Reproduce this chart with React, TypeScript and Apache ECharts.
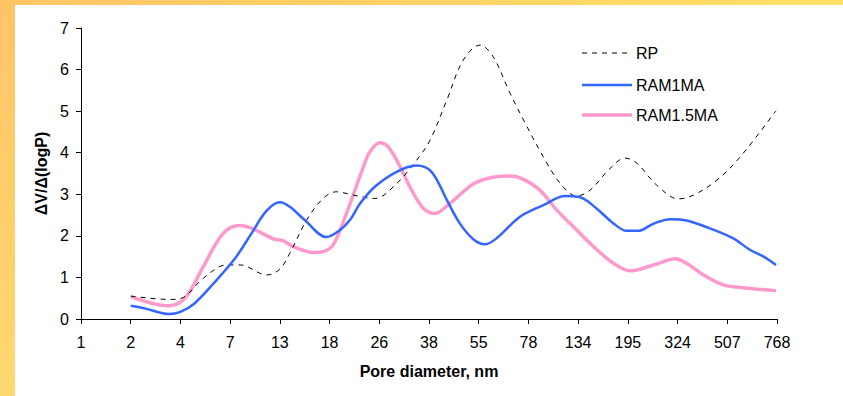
import React, { useEffect, useRef } from "react";
import * as echarts from "echarts";

const xTickLabels = ["1", "2", "4", "7", "13", "18", "26", "38", "55", "78", "134", "195", "324", "507", "768"];
const seriesNames = ["RP", "RAM1MA", "RAM1.5MA"];

// [position on category scale, ΔV/Δ(logP)]
const rpData: [number, number][] = [
  [1, 0.55], [1.8, 0.47], [2.06, 0.52], [2.46, 0.98], [2.93, 1.3], [3.2, 1.3], [3.74, 1.06], [4.0, 1.2],
  [4.2, 1.58], [4.54, 2.38], [4.87, 2.9], [5.14, 3.06], [5.48, 2.98], [5.91, 2.9], [6.35, 3.26], [6.75, 3.82],
  [7.02, 4.3], [7.36, 5.27], [7.69, 6.23], [8.03, 6.59], [8.29, 6.31], [8.63, 5.43], [8.97, 4.63], [9.3, 3.9],
  [9.64, 3.26], [9.97, 2.96], [10.24, 3.1], [10.64, 3.62], [10.94, 3.87], [11.18, 3.75], [11.58, 3.22],
  [12.02, 2.89], [12.32, 2.98], [12.79, 3.34], [13.26, 3.9], [13.98, 5.01],
];

const ram1Data: [number, number][] = [
  [1, 0.32], [1.3, 0.25], [1.77, 0.12], [2, 0.17], [2.27, 0.36], [2.67, 0.86], [3.1, 1.46], [3.43, 2.06],
  [3.73, 2.6], [4, 2.81], [4.2, 2.7], [4.5, 2.38], [4.94, 1.97], [5.21, 2.14], [5.41, 2.38], [5.61, 2.77],
  [5.91, 3.18], [6.35, 3.54], [6.75, 3.69], [7.05, 3.54], [7.36, 2.86], [7.62, 2.3], [7.89, 1.92], [8.13, 1.8],
  [8.36, 1.94], [8.83, 2.46], [9.3, 2.74], [9.74, 2.96], [10.04, 2.93], [10.37, 2.66], [10.71, 2.3],
  [10.98, 2.12], [11.21, 2.12], [11.51, 2.29], [11.85, 2.4], [12.18, 2.37], [12.65, 2.18], [13.12, 1.94],
  [13.46, 1.66], [13.73, 1.5], [13.98, 1.3],
];

const ram15Data: [number, number][] = [
  [1, 0.54], [1.77, 0.32], [2.09, 0.5], [2.46, 1.26], [2.86, 2.06], [3.2, 2.25], [3.4, 2.2], [3.87, 1.93],
  [4.07, 1.88], [4.27, 1.74], [4.67, 1.6], [4.87, 1.62], [5.08, 1.8], [5.34, 2.54], [5.68, 3.66], [5.81, 4.02],
  [6.01, 4.24], [6.18, 4.14], [6.42, 3.66], [6.65, 3.1], [6.89, 2.66], [7.12, 2.54], [7.42, 2.78], [7.89, 3.25],
  [8.29, 3.41], [8.63, 3.44], [8.9, 3.36], [9.23, 3.1], [9.57, 2.62], [9.97, 2.14], [10.31, 1.74],
  [10.71, 1.34], [11.04, 1.16], [11.31, 1.22], [11.65, 1.35], [11.95, 1.45], [12.18, 1.34], [12.52, 1.06],
  [12.92, 0.82], [13.26, 0.76], [13.98, 0.68],
];

const FONT = "'Liberation Sans', Arial, sans-serif";

const lineStyles = [
  { stroke: "#000", lineWidth: 1, lineDash: [5, 5] },
  { stroke: "#3366FF", lineWidth: 2.5 },
  { stroke: "#FF99CC", lineWidth: 3.5 },
];

export default function App() {
  const ref = useRef<HTMLDivElement>(null);
  useEffect(() => {
    if (!ref.current) return;
    const chart = echarts.init(ref.current, undefined, { renderer: "svg" });
    const legendRowY = [53, 85, 115];
    const legendGraphics: any[] = [];
    seriesNames.forEach((name, i) => {
      legendGraphics.push({
        type: "line",
        shape: { x1: 582, y1: legendRowY[i], x2: 632, y2: legendRowY[i] },
        style: { ...lineStyles[i], lineCap: "butt" },
        z: 10,
      });
      legendGraphics.push({
        type: "text",
        x: 636,
        y: legendRowY[i],
        style: {
          text: name,
          fontFamily: FONT,
          fontSize: 16,
          fill: "#000",
          verticalAlign: "middle",
          align: "left",
        },
        z: 10,
      });
    });
    chart.setOption({
      animation: false,
      backgroundColor: "#ffffff",
      graphic: [
        {
          type: "rect",
          left: 0,
          top: 0,
          shape: { width: 15, height: 396 },
          style: {
            fill: new echarts.graphic.LinearGradient(0, 0, 0, 1, [
              { offset: 0, color: "#FFC466" },
              { offset: 1, color: "#FFD870" },
            ]),
          },
          z: 0,
        },
        {
          type: "rect",
          left: 0,
          top: 0,
          shape: { width: 843, height: 5 },
          style: {
            fill: new echarts.graphic.LinearGradient(0, 0, 1, 0, [
              { offset: 0, color: "#FFC466" },
              { offset: 1, color: "#FFE066" },
            ]),
          },
          z: 0,
        },
        ...legendGraphics,
      ],
      grid: { left: 81, right: 66, top: 28, bottom: 77, containLabel: false },
      xAxis: {
        type: "value",
        min: 0,
        max: 14,
        interval: 1,
        name: "Pore diameter, nm",
        nameLocation: "middle",
        nameGap: 44,
        nameTextStyle: { fontFamily: FONT, fontSize: 16, fontWeight: "bold", color: "#000" },
        axisLine: { show: true, onZero: false, lineStyle: { color: "#000", width: 1 } },
        axisTick: { show: true, length: 5, lineStyle: { color: "#000" } },
        axisLabel: {
          margin: 15,
          fontFamily: FONT,
          fontSize: 16,
          color: "#000",
          formatter: (v: number) => xTickLabels[Math.round(v)] ?? "",
        },
        splitLine: { show: false },
      },
      yAxis: {
        type: "value",
        min: 0,
        max: 7,
        interval: 1,
        name: "ΔV/Δ(logP)",
        nameLocation: "middle",
        nameGap: 29,
        nameRotate: 90,
        nameTextStyle: { fontFamily: FONT, fontSize: 16, fontWeight: "bold", color: "#000" },
        axisLine: { show: true, lineStyle: { color: "#000", width: 1 } },
        axisTick: { show: true, length: 5, lineStyle: { color: "#000" } },
        axisLabel: { margin: 12, fontFamily: FONT, fontSize: 16, color: "#000" },
        splitLine: { show: false },
      },
      series: [
        {
          name: seriesNames[0],
          type: "line",
          data: rpData,
          smooth: 0.35,
          symbol: "none",
          color: "#000",
          lineStyle: { color: "#000", width: 1, type: [5, 5] },
          z: 3,
        },
        {
          name: seriesNames[1],
          type: "line",
          data: ram1Data,
          smooth: 0.35,
          symbol: "none",
          color: "#3366FF",
          lineStyle: { color: "#3366FF", width: 2.5 },
          z: 4,
        },
        {
          name: seriesNames[2],
          type: "line",
          data: ram15Data,
          smooth: 0.35,
          symbol: "none",
          color: "#FF99CC",
          lineStyle: { color: "#FF99CC", width: 3.5 },
          z: 2,
        },
      ],
    });
    return () => chart.dispose();
  }, []);
  return (
    <div
      ref={ref}
      style={{ position: "fixed", left: 0, top: 0, width: 843, height: 396 }}
    />
  );
}
